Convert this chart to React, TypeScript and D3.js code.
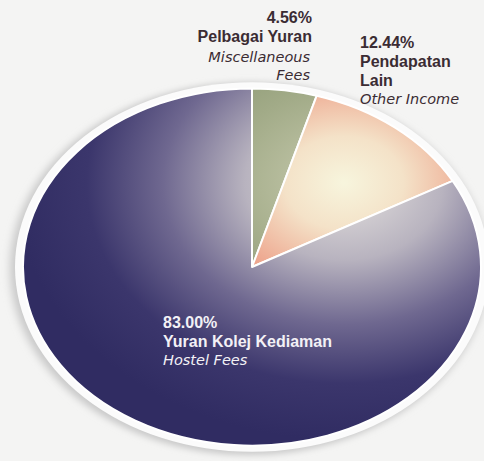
import * as d3 from 'd3';

const labelsMs = ['Pelbagai Yuran', 'Pendapatan Lain', 'Yuran Kolej Kediaman'];
const labelsEn = ['Miscellaneous Fees', 'Other Income', 'Hostel Fees'];
const shares = [4.56, 12.44, 83.0];

const W = 484;
const H = 461;
const cx = 252;
const cy = 267;
const R = 229;
const k = 0.78;

const fills = ['url(#gGreen)', 'url(#gOrange)', 'url(#gPurple)'];

export default function App() {
  const data = shares.map((v, i) => ({ v, ms: labelsMs[i], en: labelsEn[i] }));
  const pie = d3.pie<{ v: number }>().value(d => d.v).sort(null);
  const arc = d3.arc<d3.PieArcDatum<{ v: number }>>().innerRadius(0).outerRadius(R);
  const arcs = pie(data);

  // highlight centre in local (unscaled) coords
  const hx = 92;
  const hy = -108;

  const dark = '#3b2c33';
  const bold = "'Liberation Sans', Arial, sans-serif";
  const ital = "'DejaVu Sans', sans-serif";

  return (
    <svg width={W} height={H} style={{ position: 'absolute', left: 0, top: 0, background: '#f4f4f3' }}>
      <defs>
        <filter id="shadow" x="-10%" y="-10%" width="120%" height="120%">
          <feGaussianBlur stdDeviation="4" />
        </filter>
        <radialGradient id="gPurple" gradientUnits="userSpaceOnUse" cx={hx} cy={hy} r={330}>
          <stop offset="0" stopColor="#e6e3e0" />
          <stop offset="0.3" stopColor="#b8b3bf" />
          <stop offset="0.55" stopColor="#6f6890" />
          <stop offset="0.78" stopColor="#3b366c" />
          <stop offset="1" stopColor="#302c62" />
        </radialGradient>
        <radialGradient id="gOrange" gradientUnits="userSpaceOnUse" cx={hx} cy={hy} r={170}>
          <stop offset="0" stopColor="#f7f5dd" />
          <stop offset="0.35" stopColor="#f4e2c8" />
          <stop offset="0.75" stopColor="#eeaa92" />
          <stop offset="1" stopColor="#e8907c" />
        </radialGradient>
        <radialGradient id="gGreen" gradientUnits="userSpaceOnUse" cx={hx} cy={hy} r={240}>
          <stop offset="0" stopColor="#c9ccb0" />
          <stop offset="0.5" stopColor="#a2ab88" />
          <stop offset="1" stopColor="#7f8e68" />
        </radialGradient>
      </defs>

      <g transform={`translate(${cx},${cy}) scale(1,${k})`}>
        <circle r={R + 10} fill="#c9c9c9" filter="url(#shadow)" transform="translate(-3,2)" />
        <circle r={R + 8} fill="#fbfbfb" />
        {arcs.map((a, i) => (
          <path
            key={i}
            d={arc(a) ?? ''}
            fill={fills[i]}
            stroke="#ffffff"
            strokeWidth={2}
            vectorEffect="non-scaling-stroke"
            strokeLinejoin="round"
          />
        ))}
      </g>

      <g fontSize={16} fill={dark}>
        <text x={312} y={23} textAnchor="end" fontFamily={bold} fontWeight={700}>{`${data[0].v.toFixed(2)}%`}</text>
        <text x={312} y={42} textAnchor="end" fontFamily={bold} fontWeight={700}>{data[0].ms}</text>
        <text x={310} y={62} textAnchor="end" fontFamily={ital} fontStyle="italic" fontSize={14.5}>{data[0].en.split(' ')[0]}</text>
        <text x={310} y={80} textAnchor="end" fontFamily={ital} fontStyle="italic" fontSize={14.5}>{data[0].en.split(' ')[1]}</text>

        <text x={360} y={48} fontFamily={bold} fontWeight={700}>{`${data[1].v.toFixed(2)}%`}</text>
        <text x={360} y={67} fontFamily={bold} fontWeight={700}>{data[1].ms.split(' ')[0]}</text>
        <text x={360} y={86} fontFamily={bold} fontWeight={700}>{data[1].ms.split(' ')[1]}</text>
        <text x={360} y={104} fontFamily={ital} fontStyle="italic" fontSize={14.5}>{data[1].en}</text>
      </g>

      <g fontSize={16} fill="#f3f1f6">
        <text x={163} y={328} fontFamily={bold} fontWeight={700}>{`${data[2].v.toFixed(2)}%`}</text>
        <text x={163} y={347} fontFamily={bold} fontWeight={700}>{data[2].ms}</text>
        <text x={163} y={365} fontFamily={ital} fontStyle="italic" fontSize={14.5}>{data[2].en}</text>
      </g>
    </svg>
  );
}
